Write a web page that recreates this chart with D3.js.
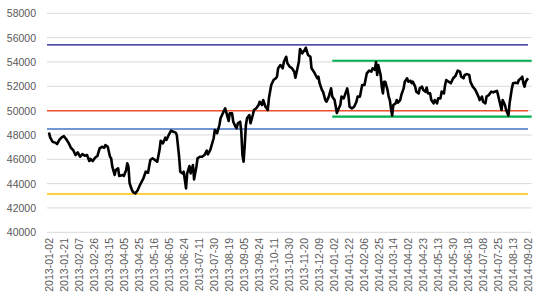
<!DOCTYPE html>
<html><head><meta charset="utf-8">
<script src="https://cdn.jsdelivr.net/npm/d3@7"></script>
<style>body{margin:0;background:#fff}svg{display:block}</style>
</head><body>
<svg id="c" width="550" height="300"></svg>
<script>
const tickLabels = ["2013-01-02","2013-01-21","2013-02-07","2013-02-26","2013-03-15","2013-04-05","2013-04-25","2013-05-16","2013-06-05","2013-06-24","2013-07-11","2013-07-30","2013-08-19","2013-09-05","2013-09-24","2013-10-11","2013-10-30","2013-11-20","2013-12-09","2014-01-02","2014-01-22","2014-02-06","2014-02-25","2014-03-14","2014-04-02","2014-04-23","2014-05-13","2014-05-30","2014-06-18","2014-07-08","2014-07-25","2014-08-13","2014-09-02"];
const labelStep = 13;
const dayCount = 417;
const yTicks = [40000,42000,44000,46000,48000,50000,52000,54000,56000,58000];
const days = [0,1,3,6,7,9,11,13,15,17,19,21,23,25,27,29,31,33,35,36,38,40,42,44,46,48,49,51,53,54,55,57,58,60,61,64,65,67,68,69,70,72,73,75,77,79,82,84,86,88,90,92,94,96,97,99,101,102,104,106,108,110,111,113,114,116,117,119,120,122,123,125,126,128,129,131,133,135,137,138,140,143,144,146,148,149,151,153,154,156,157,159,160,162,163,164,166,167,168,169,170,171,172,174,175,177,178,180,182,183,185,186,188,190,191,193,195,197,198,199,201,203,204,206,207,209,211,213,214,217,218,220,222,223,225,227,228,230,233,234,235,237,238,240,241,243,245,246,248,250,251,253,254,256,257,259,260,261,263,265,267,268,270,272,274,276,278,280,281,283,284,285,286,288,289,290,291,292,294,295,296,297,298,299,301,302,303,305,306,308,309,311,312,314,315,316,318,319,321,322,324,325,327,328,329,331,332,334,335,337,338,340,341,343,344,345,347,349,351,353,354,355,357,358,360,361,363,365,366,368,370,371,373,374,376,377,379,380,382,384,386,387,389,390,392,393,394,396,397,399,400,402,403,405,407,408,410,411,412,413,414,416];
const closeValues = [48200,47800,47450,47350,47250,47600,47800,47900,47650,47350,46950,46760,46350,46570,46210,46430,46290,46350,45860,46030,45860,46130,46270,46900,47030,46950,47170,47030,46210,46080,45390,44710,45120,45260,44630,44710,44630,45120,45670,45390,44030,43480,43300,43200,43450,43890,44440,44980,44900,45940,46080,45940,45800,46760,47530,47310,47780,47590,48000,48350,48270,48190,48000,46210,44980,44840,44980,43610,44840,45450,44840,45530,44350,45390,46080,46210,46210,46350,46710,46410,46760,47730,48410,48140,48820,49370,49780,50190,49860,49150,49780,49780,49090,48680,48550,48960,49090,48270,46350,45800,47170,48820,49370,49640,48960,49640,50050,50190,50460,50730,50460,50870,50320,50050,51010,52110,52520,52660,52790,53480,53750,53480,54020,54430,53900,53620,53480,53200,52710,54020,55070,54710,54980,55170,54570,54430,53480,53200,52660,52790,52250,51700,51560,50870,50730,51150,51830,51150,50870,49800,50050,50460,51150,51010,51290,51830,51290,50320,50190,50320,50730,51150,51150,52110,52110,53070,53290,53200,53480,53350,54000,52930,53750,52930,51970,51420,52380,52380,51700,51150,50870,50190,49600,50460,50600,50870,50650,50870,51290,51830,52380,52660,52380,52450,52250,52380,51970,51560,51420,51830,51970,51700,51560,51900,51420,51420,50870,50600,50870,50600,51010,51010,51560,51420,52110,52520,52380,52250,52660,52850,53070,53290,53200,52790,52660,52930,53000,52930,52380,51970,51750,51560,51150,50870,51150,50730,50600,51150,51290,51560,51500,51560,51620,51290,50460,50050,50870,50460,50050,49600,50600,51830,52250,52300,52250,52520,52660,52790,52250,51970,52380,52660];
const levelValues = [55400, 50000, 48500, 43150];
const levelColors = ["#14148c", "#f0502a", "#4472c4", "#ffc000"];
const levelWidths = [1.2, 1.5, 1.5, 1.5];
const rangeValues = [54100, 49500];
const rangeStartDay = 246;

const svg = d3.select("#c");
const plotL = 47, plotR = 531.7;
const x = d3.scaleLinear().domain([0, dayCount - 1]).range([49, 528]);
const y = d3.scaleLinear().domain([40000, 58000]).range([232.3, 13.3]);
const font = "'Liberation Sans', Arial, sans-serif";

svg.append("g").selectAll("line").data(yTicks).join("line")
  .attr("x1", plotL).attr("x2", plotR)
  .attr("y1", d => y(d)).attr("y2", d => y(d))
  .attr("stroke", "#d9d9d9").attr("stroke-width", 1);

const yAxis = d3.axisLeft(y).tickValues(yTicks).tickFormat(d3.format("d")).tickSize(0).tickPadding(0);
const gy = svg.append("g").attr("transform", "translate(36,0)").call(yAxis);
gy.select(".domain").remove();
gy.selectAll("text").attr("font-family", font).attr("font-size", "10.5px").attr("fill", "#595959");

const xTickVals = tickLabels.map((_, i) => i * labelStep);
const xAxis = d3.axisBottom(x).tickValues(xTickVals).tickFormat((d, i) => tickLabels[i]).tickSize(0);
const gx = svg.append("g").attr("transform", "translate(0,238)").call(xAxis);
gx.select(".domain").remove();
gx.selectAll("text")
  .attr("font-family", font).attr("font-size", "10.5px").attr("fill", "#595959")
  .attr("transform", "rotate(-90)")
  .attr("text-anchor", "end").attr("x", 0).attr("y", 0).attr("dx", 0).attr("dy", "0.35em");

svg.append("g").selectAll("line").data(levelValues).join("line")
  .attr("x1", plotL).attr("x2", x(dayCount - 1))
  .attr("y1", d => y(d)).attr("y2", d => y(d))
  .attr("stroke", (d, i) => levelColors[i]).attr("stroke-width", (d, i) => levelWidths[i]);

svg.append("g").selectAll("line").data(rangeValues).join("line")
  .attr("x1", x(rangeStartDay)).attr("x2", plotR)
  .attr("y1", d => y(d)).attr("y2", d => y(d))
  .attr("stroke", "#00b050").attr("stroke-width", 2.2);

const pts = days.map((d, i) => [d, closeValues[i]]);
svg.append("path").datum(pts)
  .attr("fill", "none").attr("stroke", "#000").attr("stroke-width", 2.6)
  .attr("stroke-linejoin", "round")
  .attr("d", d3.line().x(d => x(d[0])).y(d => y(d[1])));
</script>
</body></html>
